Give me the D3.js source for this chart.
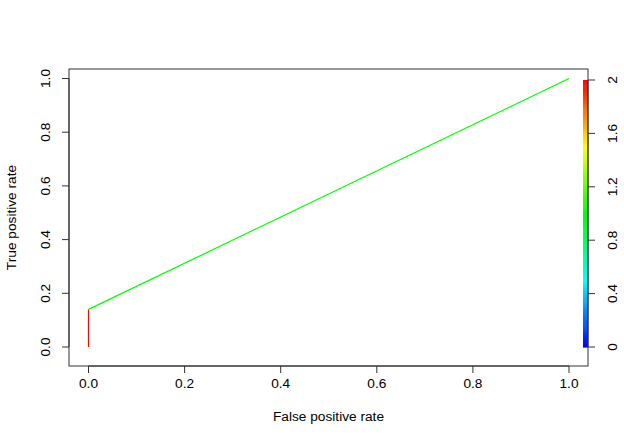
<!DOCTYPE html>
<html><head><meta charset="utf-8">
<script src="https://cdn.jsdelivr.net/npm/d3@7"></script>
<style>body{margin:0;background:#fff}svg text{font-family:"Liberation Sans",Arial,sans-serif;font-size:13.7px;fill:#000}</style>
</head><body><svg id="c" width="624" height="444"></svg>
<script>
const fpr = [0, 0, 1];
const tpr = [0, 0.14, 1];
const cutoffs = [2, 1];           // cutoff colour for each segment
const xTicks = [0, 0.2, 0.4, 0.6, 0.8, 1.0];
const yTicks = [0, 0.2, 0.4, 0.6, 0.8, 1.0];
const cTicks = [0, 0.4, 0.8, 1.2, 1.6, 2];
const cRange = [0, 2];

const svg = d3.select("#c");
const box = {l: 69, r: 588, t: 69, b: 366};
const x = d3.scaleLinear().domain([0, 1]).range([88.5, 569]);
const y = d3.scaleLinear().domain([0, 1]).range([347, 78.5]);
const cy = d3.scaleLinear().domain(cRange).range([347, 80]);
const col = v => d3.hsl(240 - 240 * (v - cRange[0]) / (cRange[1] - cRange[0]), 1, 0.5).toString();

// colour bar
const nSteps = 256;
const stepVals = d3.range(nSteps).map(i => cRange[0] + (i + 0.5) * (cRange[1] - cRange[0]) / nSteps);
svg.append("g").selectAll("rect").data(stepVals).join("rect")
  .attr("x", 583).attr("width", 5)
  .attr("y", d => cy(d + (cRange[1]-cRange[0])/nSteps/2))
  .attr("height", (cy(0) - cy((cRange[1]-cRange[0])/nSteps)) + 0.6)
  .attr("fill", d => col(d));

// ROC segments
const segs = d3.range(fpr.length - 1).map(i => ({x1: fpr[i], y1: tpr[i], x2: fpr[i+1], y2: tpr[i+1], c: cutoffs[i]}));
svg.append("g").selectAll("line").data(segs).join("line")
  .attr("x1", d => x(d.x1)).attr("y1", d => y(d.y1))
  .attr("x2", d => x(d.x2)).attr("y2", d => y(d.y2))
  .attr("stroke", d => col(d.c)).attr("stroke-width", 1.2);

// box
svg.append("rect").attr("x", box.l).attr("y", box.t).attr("width", box.r - box.l).attr("height", box.b - box.t)
  .attr("fill", "none").attr("stroke", "#333").attr("stroke-width", 1);

// bottom axis
const gx = svg.append("g");
gx.append("line").attr("x1", x(0)).attr("x2", x(1)).attr("y1", box.b).attr("y2", box.b).attr("stroke", "#333");
gx.selectAll("line.t").data(xTicks).join("line").attr("class","t")
  .attr("x1", d => x(d)).attr("x2", d => x(d)).attr("y1", box.b).attr("y2", box.b + 7).attr("stroke", "#333");
gx.selectAll("text").data(xTicks).join("text")
  .attr("x", d => x(d)).attr("y", 388).attr("text-anchor", "middle").text(d => d.toFixed(1));

// left axis
const gy = svg.append("g");
gy.append("line").attr("x1", box.l).attr("x2", box.l).attr("y1", y(0)).attr("y2", y(1)).attr("stroke", "#333");
gy.selectAll("line.t").data(yTicks).join("line").attr("class","t")
  .attr("x1", box.l - 7).attr("x2", box.l).attr("y1", d => y(d)).attr("y2", d => y(d)).attr("stroke", "#333");
gy.selectAll("text").data(yTicks).join("text")
  .attr("transform", d => `translate(50,${y(d)}) rotate(-90)`).attr("text-anchor", "middle").text(d => d.toFixed(1));

// right axis
const gr = svg.append("g");
gr.append("line").attr("x1", box.r).attr("x2", box.r).attr("y1", cy(0)).attr("y2", cy(2)).attr("stroke", "#333");
gr.selectAll("line.t").data(cTicks).join("line").attr("class","t")
  .attr("x1", box.r).attr("x2", box.r + 7).attr("y1", d => cy(d)).attr("y2", d => cy(d)).attr("stroke", "#333");
gr.selectAll("text").data(cTicks).join("text")
  .attr("transform", d => `translate(617,${cy(d)}) rotate(-90)`).attr("text-anchor", "middle").text(d => String(d));

// axis titles
svg.append("text").attr("x", (box.l + box.r) / 2).attr("y", 421).attr("text-anchor", "middle").text("False positive rate");
svg.append("text").attr("transform", `translate(16,${(box.t + box.b) / 2}) rotate(-90)`).attr("text-anchor", "middle").text("True positive rate");
</script></body></html>
